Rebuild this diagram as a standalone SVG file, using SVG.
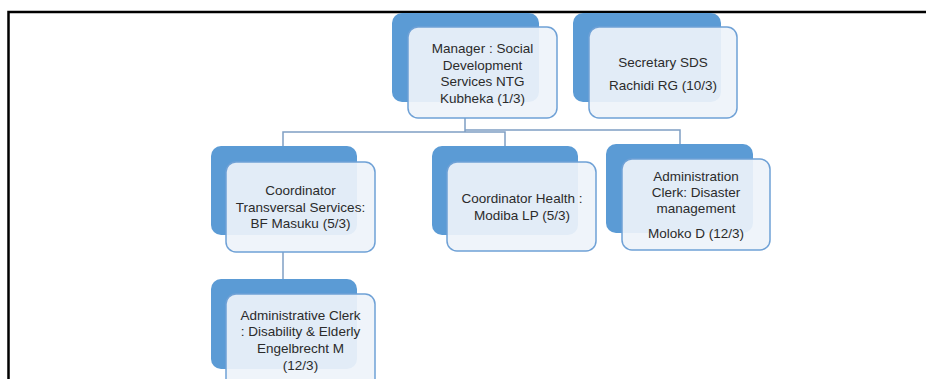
<svg xmlns="http://www.w3.org/2000/svg" width="926" height="379" viewBox="0 0 926 379">
<style>
.back{fill:#5b9bd5;}
.front{fill:#eef3fa;fill-opacity:0.92;stroke:#6fa1d6;stroke-width:1.5;}
.conn{fill:none;stroke:#7f9fc4;stroke-width:1.5;}
.t{font-family:"Liberation Sans",Arial,sans-serif;font-size:13.5px;fill:#2b2b2b;text-anchor:middle;}
.frame{fill:none;stroke:#000;stroke-width:2.5;}
</style>
<rect width="926" height="379" fill="#fff"/>
<path class="frame" d="M8.5,379 V12 H926"/>
<g id="connectors">
<path class="conn" d="M465,118 V132 M283,146 V132 H505 V146"/>
<path class="conn" d="M465,130 H680 V144"/>
<path class="conn" d="M283,252 V279"/>
</g>
<g id="manager">
<rect class="back" x="392" y="13" width="147" height="89" rx="10"/>
<rect class="front" x="408" y="27" width="149" height="91" rx="10"/>
<text class="t"><tspan x="482.5" y="53">Manager : Social</tspan><tspan x="482.5" y="69.5">Development</tspan><tspan x="482.5" y="86">Services NTG</tspan><tspan x="482.5" y="102.5">Kubheka (1/3)</tspan></text>
</g>
<g id="secretary">
<rect class="back" x="573" y="13" width="148" height="89" rx="10"/>
<rect class="front" x="589" y="27" width="148" height="91" rx="10"/>
<text class="t"><tspan x="663" y="67">Secretary SDS</tspan><tspan x="663" y="90">Rachidi RG (10/3)</tspan></text>
</g>
<g id="coord-transversal">
<rect class="back" x="211" y="146" width="146" height="89" rx="10"/>
<rect class="front" x="226" y="162" width="149" height="90" rx="10"/>
<text class="t"><tspan x="300.5" y="195">Coordinator</tspan><tspan x="300.5" y="211.5">Transversal Services:</tspan><tspan x="300.5" y="228">BF Masuku (5/3)</tspan></text>
</g>
<g id="coord-health">
<rect class="back" x="432" y="146" width="146" height="89" rx="10"/>
<rect class="front" x="447" y="162" width="149" height="89" rx="10"/>
<text class="t"><tspan x="522" y="203">Coordinator Health :</tspan><tspan x="522" y="220">Modiba LP (5/3)</tspan></text>
</g>
<g id="admin-disaster">
<rect class="back" x="606" y="144" width="147" height="89" rx="10"/>
<rect class="front" x="622" y="159" width="148" height="91" rx="10"/>
<text class="t"><tspan x="696" y="181">Administration</tspan><tspan x="696" y="197">Clerk: Disaster</tspan><tspan x="696" y="213">management</tspan><tspan x="696" y="238">Moloko D (12/3)</tspan></text>
</g>
<g id="admin-disability">
<rect class="back" x="211" y="279" width="146" height="90" rx="10"/>
<rect class="front" x="226" y="294" width="149" height="100" rx="10"/>
<text class="t"><tspan x="300.5" y="320">Administrative Clerk</tspan><tspan x="300.5" y="336">: Disability &amp; Elderly</tspan><tspan x="300.5" y="353">Engelbrecht M</tspan><tspan x="300.5" y="370">(12/3)</tspan></text>
</g>
</svg>
